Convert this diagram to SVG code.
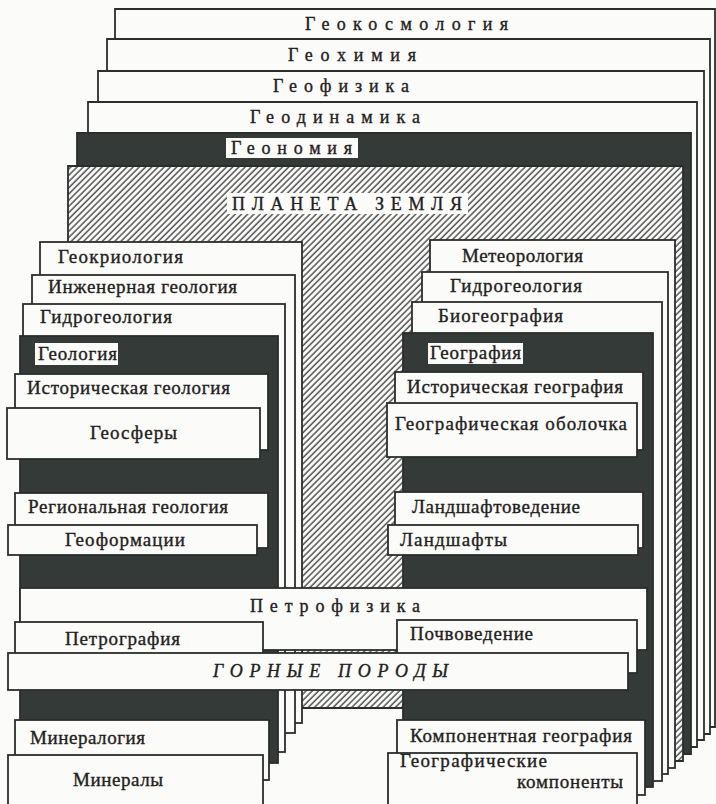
<svg xmlns="http://www.w3.org/2000/svg" width="716" height="804" viewBox="0 0 716 804">
  <defs>
    <pattern id="hatch" width="4.4" height="4.4" patternUnits="userSpaceOnUse" patternTransform="rotate(45)">
      <rect width="4.4" height="4.4" fill="#fbfbfa"/>
      <line x1="1" y1="0" x2="1" y2="4.4" stroke="#3a3d3b" stroke-width="1.3"/>
    </pattern>
  </defs>
  <style>
    .sheet { fill: #fbfbfa; stroke: #2c2e2d; stroke-width: 1.8; }
    .dark { fill: #333a37; stroke: #2c2e2d; stroke-width: 1.8; }
    .hatched { fill: url(#hatch); stroke: #2c2e2d; stroke-width: 1.8; }
    .tag { fill: #fbfbfa; stroke: none; }
    .lbl { font-family: "Liberation Serif", "DejaVu Serif", serif; font-size: 19px; fill: #1f2120; stroke: #1f2120; stroke-width: 0.35; }
    .wide { font-family: "Liberation Serif", "DejaVu Serif", serif; font-size: 18px; fill: #1f2120; stroke: #1f2120; stroke-width: 0.35; }
    .ital { font-style: italic; }
  </style>

  <!-- paper -->
  <rect width="716" height="804" fill="#fbfbfa"/>

  <!-- global layers, back to front -->
  <g id="geokosmologiya">
    <polygon class="sheet" points="115,9 715,9 715,727 640,727 640,708 115,708"/>
    <text class="wide" x="305" y="30" textLength="203" lengthAdjust="spacing">Геокосмология</text>
  </g>
  <g id="geokhimiya">
    <polygon class="sheet" points="107,39 710,39 710,734 640,734 640,708 107,708"/>
    <text class="wide" x="288" y="61" textLength="128" lengthAdjust="spacing">Геохимия</text>
  </g>
  <g id="geofizika">
    <polygon class="sheet" points="98,71 704,71 704,740 640,740 640,708 98,708"/>
    <text class="wide" x="273" y="92" textLength="136" lengthAdjust="spacing">Геофизика</text>
  </g>
  <g id="geodinamika">
    <polygon class="sheet" points="88,102 697,102 697,747 640,747 640,708 88,708"/>
    <text class="wide" x="250" y="123" textLength="170" lengthAdjust="spacing">Геодинамика</text>
  </g>
  <g id="geonomiya">
    <polygon class="dark" points="77,133 691,133 691,754 640,754 640,708 77,708"/>
    <rect class="tag" x="226" y="138" width="132" height="20"/>
    <text class="wide" x="231" y="154" textLength="121" lengthAdjust="spacing">Геономия</text>
  </g>
  <g id="planeta-zemlya">
    <polygon class="hatched" points="68,166 683,166 683,761 640,761 640,708 68,708"/>
    <rect class="tag" x="227" y="193" width="241" height="21"/>
    <text class="wide" x="232" y="210" textLength="230" lengthAdjust="spacing">ПЛАНЕТА ЗЕМЛЯ</text>
  </g>

  <!-- left stack: geology -->
  <g id="geokriologiya">
    <rect class="sheet" x="40" y="242" width="262" height="481"/>
    <text class="lbl" x="58" y="263" textLength="125" lengthAdjust="spacing">Геокриология</text>
  </g>
  <g id="inzhenernaya-geologiya">
    <rect class="sheet" x="32" y="275" width="263" height="458"/>
    <text class="lbl" x="48" y="293" textLength="189" lengthAdjust="spacing">Инженерная геология</text>
  </g>
  <g id="gidrogeologiya-left">
    <rect class="sheet" x="23" y="304" width="262" height="448"/>
    <text class="lbl" x="40" y="323" textLength="132" lengthAdjust="spacing">Гидрогеология</text>
  </g>
  <g id="geologiya">
    <rect class="dark" x="20" y="336" width="258" height="427"/>
    <rect class="tag" x="35" y="343" width="83" height="22"/>
    <text class="lbl" x="38" y="360" textLength="79" lengthAdjust="spacing">Геология</text>
  </g>
  <g id="istoricheskaya-geologiya">
    <rect class="sheet" x="15" y="374" width="253" height="76"/>
    <text class="lbl" x="27" y="394" textLength="203" lengthAdjust="spacing">Историческая геология</text>
  </g>
  <g id="geosfery">
    <rect class="sheet" x="7" y="408" width="253" height="51"/>
    <text class="lbl" x="90" y="439" textLength="87" lengthAdjust="spacing">Геосферы</text>
  </g>
  <g id="regionalnaya-geologiya">
    <rect class="sheet" x="15" y="493" width="253" height="55"/>
    <text class="lbl" x="28" y="513" textLength="200" lengthAdjust="spacing">Региональная геология</text>
  </g>
  <g id="geoformatsii">
    <rect class="sheet" x="8" y="525" width="249" height="30"/>
    <text class="lbl" x="65" y="546" textLength="120" lengthAdjust="spacing">Геоформации</text>
  </g>
  <g id="mineralogiya">
    <rect class="sheet" x="15" y="720" width="254" height="60"/>
    <text class="lbl" x="30" y="744" textLength="115" lengthAdjust="spacing">Минералогия</text>
  </g>
  <g id="mineraly">
    <rect class="sheet" x="8" y="755" width="255" height="56"/>
    <text class="lbl" x="73" y="786" textLength="90" lengthAdjust="spacing">Минералы</text>
  </g>

  <!-- right stack: geography -->
  <g id="meteorologiya">
    <rect class="sheet" x="430" y="240" width="245" height="528"/>
    <text class="lbl" x="462" y="262" textLength="121" lengthAdjust="spacing">Метеорология</text>
  </g>
  <g id="gidrogeologiya-right">
    <rect class="sheet" x="422" y="272" width="246" height="502"/>
    <text class="lbl" x="450" y="292" textLength="132" lengthAdjust="spacing">Гидрогеология</text>
  </g>
  <g id="biogeografiya">
    <rect class="sheet" x="412" y="302" width="250" height="479"/>
    <text class="lbl" x="438" y="322" textLength="125" lengthAdjust="spacing">Биогеография</text>
  </g>
  <g id="geografiya">
    <rect class="dark" x="403" y="333" width="250" height="454"/>
    <rect class="tag" x="428" y="343" width="95" height="21"/>
    <text class="lbl" x="430" y="359" textLength="91" lengthAdjust="spacing">География</text>
  </g>
  <g id="istoricheskaya-geografiya">
    <rect class="sheet" x="395" y="372" width="248" height="78"/>
    <text class="lbl" x="407" y="393" textLength="216" lengthAdjust="spacing">Историческая география</text>
  </g>
  <g id="geograficheskaya-obolochka">
    <rect class="sheet" x="387" y="403" width="250" height="54"/>
    <text class="lbl" x="395" y="430" textLength="232" lengthAdjust="spacing">Географическая оболочка</text>
  </g>
  <g id="landshaftovedenie">
    <rect class="sheet" x="395" y="492" width="248" height="56"/>
    <text class="lbl" x="412" y="513" textLength="168" lengthAdjust="spacing">Ландшафтоведение</text>
  </g>
  <g id="landshafty">
    <rect class="sheet" x="388" y="525" width="250" height="30"/>
    <text class="lbl" x="400" y="546" textLength="107" lengthAdjust="spacing">Ландшафты</text>
  </g>
  <g id="komponentnaya-geografiya">
    <rect class="sheet" x="397" y="720" width="248" height="75"/>
    <text class="lbl" x="410" y="742" textLength="222" lengthAdjust="spacing">Компонентная география</text>
  </g>
  <g id="geograficheskie-komponenty">
    <rect class="sheet" x="388" y="753" width="249" height="58"/>
    <text class="lbl" x="400" y="767" textLength="147" lengthAdjust="spacing">Географические</text>
    <text class="lbl" x="517" y="788" textLength="106" lengthAdjust="spacing">компоненты</text>
  </g>

  <!-- cross strips -->
  <g id="petrofizika">
    <rect class="sheet" x="20" y="588" width="627" height="62"/>
    <text class="wide" x="250" y="612" textLength="170" lengthAdjust="spacing">Петрофизика</text>
  </g>
  <g id="petrografiya">
    <rect class="sheet" x="15" y="622" width="248" height="38"/>
    <text class="lbl" x="65" y="645" textLength="115" lengthAdjust="spacing">Петрография</text>
  </g>
  <g id="pochvovedenie">
    <rect class="sheet" x="397" y="620" width="240" height="53"/>
    <text class="lbl" x="410" y="640" textLength="123" lengthAdjust="spacing">Почвоведение</text>
  </g>
  <g id="gornye-porody">
    <rect class="sheet" x="8" y="653" width="620" height="37"/>
    <text class="wide ital" x="213" y="677" textLength="235" lengthAdjust="spacing">ГОРНЫЕ ПОРОДЫ</text>
  </g>

  <!-- no connectors in this layered scheme -->
  <g id="connectors"/>
</svg>
